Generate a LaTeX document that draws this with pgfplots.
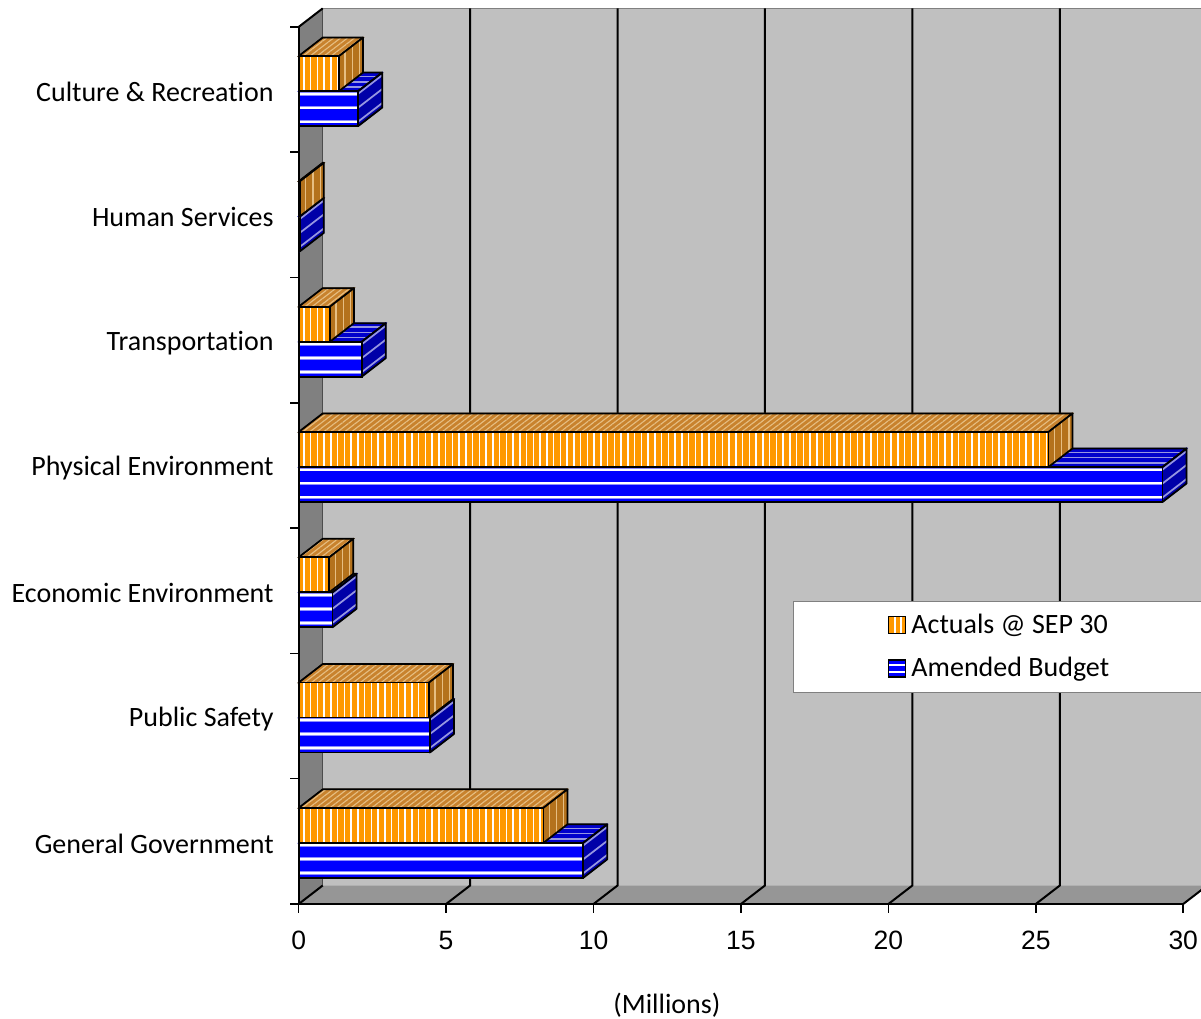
\documentclass[border=0pt]{standalone}
\usepackage{fontspec}
\setmainfont{Carlito}[Ligatures={NoCommon}]
\newfontfamily\numfont{Liberation Sans}
\usepackage{pgfplots}
\usepackage{pgfplotstable}
\pgfplotsset{compat=1.18}
\usetikzlibrary{patterns.meta}

\definecolor{wallback}{RGB}{192,192,192}
\definecolor{wallside}{RGB}{128,128,128}
\definecolor{wallfloor}{RGB}{150,150,150}
\definecolor{orFront}{RGB}{255,153,0}
\definecolor{orTop}{RGB}{200,130,45}
\definecolor{orSide}{RGB}{180,114,28}
\definecolor{orLine}{RGB}{230,190,130}
\definecolor{buFront}{RGB}{0,0,255}
\definecolor{buTop}{RGB}{0,0,204}
\definecolor{buSide}{RGB}{0,0,168}
\definecolor{buLine}{RGB}{150,150,225}
\definecolor{buEdge}{RGB}{140,140,255}

% spending by function, in millions
\pgfplotstableread{
cat act bud
0 8.30 9.65
1 4.42 4.45
2 1.04 1.15
3 25.43 29.30
4 1.06 2.14
5 0.04 0.04
6 1.37 2.02
}\spending

% depth of the 3-D boxes and walls, and length of one million (pt)
\def\dx{9.6}
\def\dy{7.4}
\def\xu{11.794}

% amended budget box, drawn from its right end
\newcommand\budgetbar[1]{%
  \pgfmathsetmacro\L{#1*\xu}%
  \begin{scope}[x=1pt,y=1pt]
    % top face
    \fill[buTop] (-\L,-0.6) -- ++(\dx,\dy) -- (\dx,-0.6+\dy) -- (0,-0.6) -- cycle;
    \foreach \t in {0.22,0.5,0.78}
      \draw[buLine, line width=0.6pt] ({-\L+\t*\dx},{-0.6+\t*\dy}) -- ({\t*\dx},{-0.6+\t*\dy});
    \draw[line width=0.7pt, line join=round] (-\L,-0.6) -- ++(\dx,\dy) -- (\dx,-0.6+\dy) -- (0,-0.6);
    % side face
    \fill[buSide] (0,-14.6) -- (\dx,-14.6+\dy) -- (\dx,-0.6+\dy) -- (0,-0.6) -- cycle;
    \foreach \s in {-1.65,-7.2,-12.8}
      \draw[buLine, line width=0.7pt] (0,\s) -- ++(\dx,\dy);
    \draw[line width=0.7pt, line join=round] (0,-14.6) -- (\dx,-14.6+\dy) -- (\dx,-0.6+\dy) -- (0,-0.6);
    % front face
    \fill[buFront] (-\L,-14.6) rectangle (0,-0.6);
    \foreach \s in {-1.65,-7.2,-12.8} {
      \draw[buEdge, line width=1.5pt] (-\L,\s) -- (0,\s);
      \draw[white, line width=0.8pt] (-\L,\s) -- (0,\s);
    }
    \draw[line width=0.7pt] (-\L,-14.6) rectangle (0,-0.6);
  \end{scope}}

% actuals box, drawn from its right end
\newcommand\actualbar[1]{%
  \pgfmathsetmacro\L{#1*\xu}%
  \begin{scope}[x=1pt,y=1pt]
    % top face
    \fill[orTop] (-\L,13.4) -- ++(\dx,\dy) -- (\dx,13.4+\dy) -- (0,13.4) -- cycle;
    \fill[pattern={Lines[angle=37.6,distance=1.7pt,line width=0.45pt]}, pattern color=orLine]
      (-\L,13.4) -- ++(\dx,\dy) -- (\dx,13.4+\dy) -- (0,13.4) -- cycle;
    \draw[line width=0.7pt, line join=round] (-\L,13.4) -- ++(\dx,\dy) -- (\dx,13.4+\dy) -- (0,13.4);
    % side face
    \fill[orSide] (0,-0.6) -- (\dx,-0.6+\dy) -- (\dx,13.4+\dy) -- (0,13.4) -- cycle;
    \foreach \t in {0.25,0.55,0.85}
      \draw[orLine, line width=0.5pt] ({\t*\dx},{-0.6+\t*\dy}) -- ({\t*\dx},{13.4+\t*\dy});
    \draw[line width=0.7pt, line join=round] (0,-0.6) -- (\dx,-0.6+\dy) -- (\dx,13.4+\dy) -- (0,13.4);
    % front face
    \fill[orFront] (-\L,-0.6) rectangle (0,13.4);
    \fill[pattern={Lines[angle=90,distance=2.7pt,line width=0.6pt]}, pattern color=white]
      (-\L,-0.6) rectangle (0,13.4);
    \draw[line width=0.7pt] (-\L,-0.6) rectangle (0,13.4);
  \end{scope}}

\begin{document}
\begin{tikzpicture}
\begin{axis}[
  at={(0,0)}, anchor=south west,
  x=\xu pt, y=50.12pt,
  xmin=0, xmax=30, ymin=-0.5, ymax=6.5,
  clip=false,
  axis x line*=bottom, axis y line*=left,
  axis line style={draw=none},
  tick align=outside,
  major tick length=3.4pt,
  tick style={black, line width=0.6pt},
  xtick={0,5,...,30},
  ytick={-0.5,0.5,...,6.5},
  yticklabels={},
  extra y ticks={0,1,2,3,4,5,6},
  extra y tick labels={General Government, Public Safety, Economic Environment,
    Physical Environment, Transportation, Human Services, Culture \& Recreation},
  extra y tick style={major tick length=0pt},
  /pgf/number format/assume math mode=true,
  xticklabel style={font=\numfont\fontsize{10.6}{12}\selectfont, yshift=-4pt},
  yticklabel style={font=\fontsize{11.2}{13}\selectfont, xshift=-6.5pt, yshift=-1pt},
  xlabel={(Millions)},
  xlabel style={at={(axis description cs:0.4163,-0.1129)}, anchor=center,
    font=\fontsize{11.2}{13}\selectfont, yshift=-0.8pt},
  legend style={at={(0.5588,0.3455)}, anchor=north west, draw=gray, fill=white,
    font=\fontsize{11.2}{13}\selectfont, inner xsep=37.5pt, inner ysep=2.8pt,
    row sep=4.2pt, line width=0.6pt},
  legend cell align=left,
]
% walls and floor
\fill[wallback] ([shift={(\dx pt,\dy pt)}]axis cs:0,-0.5) rectangle ([shift={(\dx pt,\dy pt)}]axis cs:30,6.5);
\draw[gray, line width=0.6pt] ([shift={(\dx pt,\dy pt)}]axis cs:0,6.5) -- ([shift={(\dx pt,\dy pt)}]axis cs:30,6.5);
\fill[wallside] (axis cs:0,-0.5) -- (axis cs:0,6.5) -- ([shift={(\dx pt,\dy pt)}]axis cs:0,6.5)
  -- ([shift={(\dx pt,\dy pt)}]axis cs:0,-0.5) -- cycle;
\fill[wallfloor] (axis cs:0,-0.5) -- ([shift={(\dx pt,\dy pt)}]axis cs:0,-0.5)
  -- ([shift={(\dx pt,\dy pt)}]axis cs:30,-0.5) -- (axis cs:30,-0.5) -- cycle;
\draw[black!70, line width=0.5pt] ([shift={(\dx pt,\dy pt)}]axis cs:0,-0.5) -- ([shift={(\dx pt,\dy pt)}]axis cs:0,6.5);
\draw[black, line width=0.8pt] (axis cs:0,6.5) -- ([shift={(\dx pt,\dy pt)}]axis cs:0,6.5);
\draw[black, line width=0.8pt] (axis cs:0,-0.5) -- ([shift={(\dx pt,\dy pt)}]axis cs:0,-0.5);
\pgfplotsinvokeforeach{5,10,15,20,25,30}{
  \draw[black, line width=0.8pt] (axis cs:#1,-0.5) -- ([shift={(\dx pt,\dy pt)}]axis cs:#1,-0.5)
    -- ([shift={(\dx pt,\dy pt)}]axis cs:#1,6.5);
}
\draw[black, line width=0.8pt] (axis cs:0,6.5) -- (axis cs:0,-0.5) -- (axis cs:30,-0.5);

% boxes: budget first, actuals in front of its top face
\addplot[forget plot, scatter, only marks, mark=*, mark size=0pt,
  mark options={draw=none, fill=none},
  visualization depends on={\thisrow{bud} \as \val},
  scatter/@pre marker code/.code={\budgetbar{\val}},
  scatter/@post marker code/.code={}]
  table[x=bud, y=cat] {\spending};
\addplot[forget plot, scatter, only marks, mark=*, mark size=0pt,
  mark options={draw=none, fill=none},
  visualization depends on={\thisrow{act} \as \val},
  scatter/@pre marker code/.code={\actualbar{\val}},
  scatter/@post marker code/.code={}]
  table[x=act, y=cat] {\spending};

\addlegendimage{legend image code/.code={
  \fill[orFront] (0pt,-3.3pt) rectangle (6.8pt,3.5pt);
  \draw[white, line width=0.8pt] (2.5pt,-3.3pt) -- (2.5pt,3.5pt);
  \draw[white, line width=0.8pt] (5.0pt,-3.3pt) -- (5.0pt,3.5pt);
  \draw[line width=0.6pt] (0pt,-3.3pt) rectangle (6.8pt,3.5pt);}}
\addlegendentry{Actuals @ SEP 30}
\addlegendimage{legend image code/.code={
  \fill[buFront] (0pt,-3.3pt) rectangle (6.8pt,3.5pt);
  \draw[white, line width=0.8pt] (0pt,1.6pt) -- (6.8pt,1.6pt);
  \draw[white, line width=0.8pt] (0pt,-1.2pt) -- (6.8pt,-1.2pt);
  \draw[line width=0.6pt] (0pt,-3.3pt) rectangle (6.8pt,3.5pt);}}
\addlegendentry{Amended Budget}
\end{axis}
\pgfresetboundingbox
\useasboundingbox (-119.48pt,-46pt) rectangle (360.92pt,361.6pt);
\end{tikzpicture}
\end{document}
